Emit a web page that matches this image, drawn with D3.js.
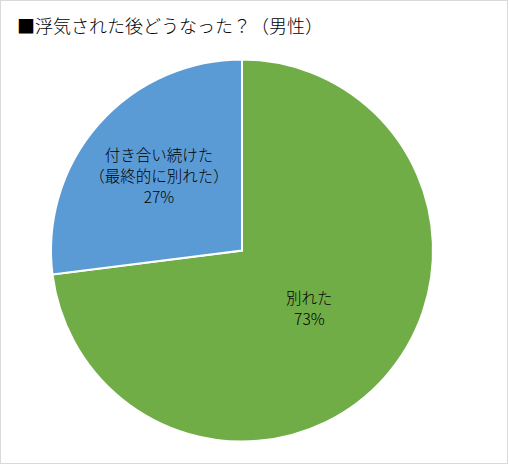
<!DOCTYPE html>
<html>
<head>
<meta charset="utf-8">
<script src="https://cdn.jsdelivr.net/npm/d3@7"></script>
<style>
  body { margin: 0; background: #fff; }
  svg { display: block; font-family: "Noto Sans CJK JP", "Noto Sans", sans-serif; }
</style>
</head>
<body>
<svg id="chart" width="509" height="465"></svg>
<script>
const title = "■浮気された後どうなった？（男性）";
const categories = ["別れた", "付き合い続けた\n（最終的に別れた）"];
const values = [73, 27];
const colors = ["#70AD47", "#5B9BD5"];

const svg = d3.select("#chart");
const W = 509, H = 465;
const cx = 242, cy = 250.5, radius = 191;

// outer frame
svg.append("rect").attr("x", 0.5).attr("y", 0.5).attr("width", W - 2).attr("height", H - 2)
    .attr("fill", "#fff").attr("stroke", "#d9d9d9");

svg.append("text").attr("x", 17).attr("y", 33)
    .attr("font-size", 18).attr("font-weight", 300).attr("fill", "#000").text(title);

const data = categories.map((c, i) => ({ name: c, value: values[i], color: colors[i] }));
const pie = d3.pie().value(d => d.value).sort(null);
const arc = d3.arc().innerRadius(0).outerRadius(radius);

const g = svg.append("g").attr("transform", `translate(${cx},${cy})`);
const slices = pie(data);

g.selectAll(".slice").data(slices).enter().append("path")
    .attr("class", "slice")
    .attr("d", arc)
    .attr("fill", d => d.data.color)
    .attr("stroke", "#fff").attr("stroke-width", 2);

// big slice label sits a little closer to the centre
function labelPos(d) {
    const r = radius * (d.data.value > 50 ? 0.47 : 0.58);
    return d3.arc().innerRadius(r).outerRadius(r).centroid(d);
}

const labels = g.selectAll(".label").data(slices).enter().append("text")
    .attr("class", "label")
    .attr("text-anchor", "middle")
    .attr("font-size", 15.5)
    .attr("font-weight", 300)
    .attr("fill", "#000")
    .attr("transform", d => `translate(${labelPos(d)})`);

labels.each(function(d) {
    const lines = d.data.name.split("\n").concat([d.data.value + "%"]);
    const step = 21;
    const y0 = -(lines.length - 1) * step / 2 + 5;
    lines.forEach((t, i) => {
        d3.select(this).append("tspan").attr("x", 0).attr("y", y0 + i * step).text(t);
    });
});
</script>
</body>
</html>
